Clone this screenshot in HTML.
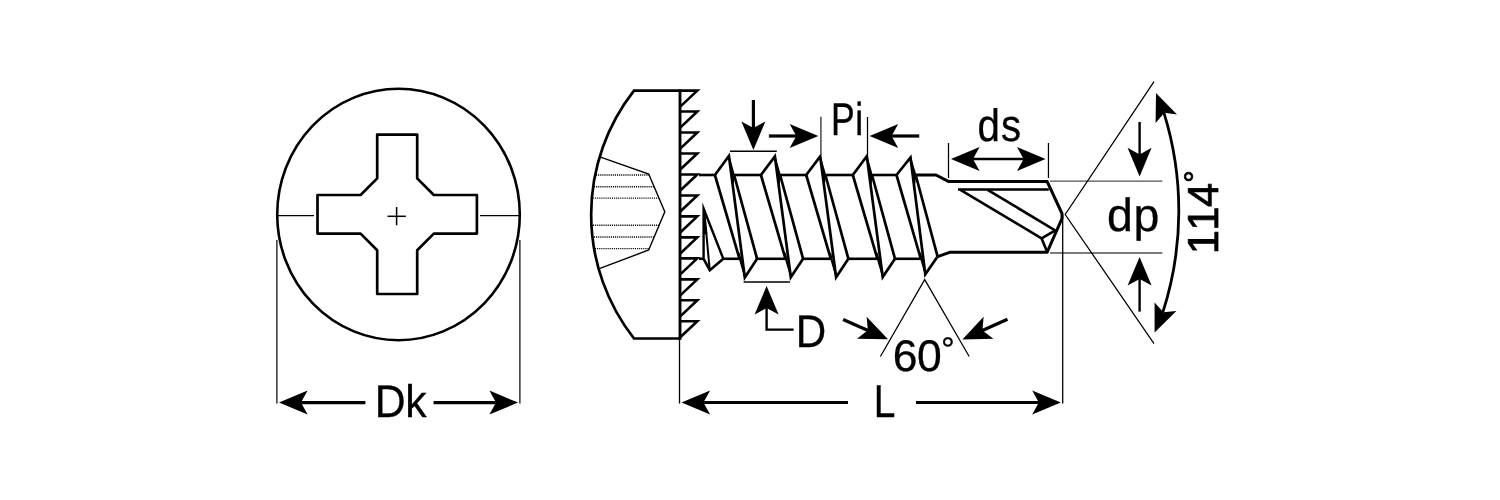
<!DOCTYPE html>
<html lang="en">
<head>
<meta charset="utf-8">
<title>Self-drilling screw dimensions</title>
<style>
html,body{margin:0;padding:0;background:#fff;}
body{width:1500px;height:500px;overflow:hidden;}
svg{display:block;will-change:transform;}
text{font-family:"Liberation Sans",sans-serif;fill:#000;text-rendering:geometricPrecision;}
</style>
</head>
<body>
<svg width="1500" height="500" viewBox="0 0 1500 500">
<rect width="1500" height="500" fill="#fff"/>
<ellipse cx="398.5" cy="214.5" rx="121.3" ry="125.7" fill="none" stroke="#000" stroke-width="2.6"/>
<path d="M377.20,134.60 L417.20,134.60 L417.20,178.40 L433.80,195.00 L476.90,195.00 L476.90,233.60 L433.80,233.60 L417.20,250.20 L417.20,294.00 L377.20,294.00 L377.20,250.20 L360.60,233.60 L317.50,233.60 L317.50,195.00 L360.60,195.00 L377.20,178.40 Z" fill="none" stroke="#000" stroke-width="2.7" stroke-linejoin="round" stroke-linecap="butt"/>
<line x1="387.50" y1="216.30" x2="405.80" y2="216.30" stroke="#000" stroke-width="1.5" stroke-linecap="butt" />
<line x1="396.60" y1="207.00" x2="396.60" y2="225.20" stroke="#000" stroke-width="1.5" stroke-linecap="butt" />
<line x1="277.00" y1="215.60" x2="314.00" y2="215.60" stroke="#000" stroke-width="1.2" stroke-linecap="butt" />
<line x1="480.00" y1="215.60" x2="520.00" y2="215.60" stroke="#000" stroke-width="1.2" stroke-linecap="butt" />
<line x1="276.90" y1="240.00" x2="276.90" y2="403.60" stroke="#000" stroke-width="1.2" stroke-linecap="butt" />
<line x1="519.90" y1="240.00" x2="519.90" y2="403.60" stroke="#000" stroke-width="1.2" stroke-linecap="butt" />
<line x1="365.40" y1="402.60" x2="299.00" y2="402.60" stroke="#000" stroke-width="3.2" stroke-linecap="butt" />
<path d="M279.00,402.60 L307.60,414.60 L301.00,402.60 L307.60,390.60 Z" fill="#000"/>
<line x1="433.60" y1="402.60" x2="498.00" y2="402.60" stroke="#000" stroke-width="3.2" stroke-linecap="butt" />
<path d="M518.00,402.60 L489.40,390.60 L496.00,402.60 L489.40,414.60 Z" fill="#000"/>
<text transform="translate(0,416.55) scale(0.9353,1)" x="400.61 433.34" y="0" font-size="45.67" stroke="#000" stroke-width="0.3">Dk</text>
<path d="M680,90.6 L634,90.6 A200.7,200.7 0 0 0 634,338.5 L680,338.5" fill="none" stroke="#000" stroke-width="2.7" stroke-linejoin="miter"/>
<line x1="680.00" y1="89.25" x2="680.00" y2="339.85" stroke="#000" stroke-width="2.9" stroke-linecap="butt" />
<path d="M680.00,90.60 L697.30,90.60 L680.00,106.90" fill="none" stroke="#000" stroke-width="2.6" stroke-linejoin="miter" stroke-linecap="butt"/>
<path d="M680.00,111.57 L697.30,111.57 L680.00,127.87" fill="none" stroke="#000" stroke-width="2.6" stroke-linejoin="miter" stroke-linecap="butt"/>
<path d="M680.00,132.54 L697.30,132.54 L680.00,148.84" fill="none" stroke="#000" stroke-width="2.6" stroke-linejoin="miter" stroke-linecap="butt"/>
<path d="M680.00,153.51 L697.30,153.51 L680.00,169.81" fill="none" stroke="#000" stroke-width="2.6" stroke-linejoin="miter" stroke-linecap="butt"/>
<path d="M680.00,174.48 L697.30,174.48 L680.00,190.78" fill="none" stroke="#000" stroke-width="2.6" stroke-linejoin="miter" stroke-linecap="butt"/>
<path d="M680.00,195.45 L697.30,195.45 L680.00,211.75" fill="none" stroke="#000" stroke-width="2.6" stroke-linejoin="miter" stroke-linecap="butt"/>
<path d="M680.00,216.42 L697.30,216.42 L680.00,232.72" fill="none" stroke="#000" stroke-width="2.6" stroke-linejoin="miter" stroke-linecap="butt"/>
<path d="M680.00,237.39 L697.30,237.39 L680.00,253.69" fill="none" stroke="#000" stroke-width="2.6" stroke-linejoin="miter" stroke-linecap="butt"/>
<path d="M680.00,258.36 L697.30,258.36 L680.00,274.66" fill="none" stroke="#000" stroke-width="2.6" stroke-linejoin="miter" stroke-linecap="butt"/>
<path d="M680.00,279.33 L697.30,279.33 L680.00,295.63" fill="none" stroke="#000" stroke-width="2.6" stroke-linejoin="miter" stroke-linecap="butt"/>
<path d="M680.00,300.30 L697.30,300.30 L680.00,316.60" fill="none" stroke="#000" stroke-width="2.6" stroke-linejoin="miter" stroke-linecap="butt"/>
<path d="M680.00,321.27 L697.30,321.27 L680.00,337.57" fill="none" stroke="#000" stroke-width="2.6" stroke-linejoin="miter" stroke-linecap="butt"/>
<path d="M600.50,157.20 L648.70,174.00 L664.80,211.80 L648.70,250.00 L600.00,268.40" fill="none" stroke="#000" stroke-width="1.4" stroke-linejoin="miter" stroke-linecap="butt"/>
<line x1="596" y1="175.0" x2="649.13" y2="175.0" stroke="#000" stroke-width="1.4" stroke-dasharray="1.1 1"/>
<line x1="594" y1="186.7" x2="654.11" y2="186.7" stroke="#000" stroke-width="1.4" stroke-dasharray="1.1 1"/>
<line x1="593" y1="198.1" x2="658.96" y2="198.1" stroke="#000" stroke-width="1.4" stroke-dasharray="1.1 1"/>
<line x1="593" y1="225.3" x2="659.11" y2="225.3" stroke="#000" stroke-width="1.4" stroke-dasharray="1.1 1"/>
<line x1="594" y1="237.0" x2="654.18" y2="237.0" stroke="#000" stroke-width="1.4" stroke-dasharray="1.1 1"/>
<line x1="595" y1="248.6" x2="649.29" y2="248.6" stroke="#000" stroke-width="1.4" stroke-dasharray="1.1 1"/>
<line x1="679.50" y1="338.00" x2="679.50" y2="403.50" stroke="#000" stroke-width="1.3" stroke-linecap="butt" />
<path d="M714.90,175.00 L728.90,155.90 L744.80,277.50 L757.10,258.80" fill="none" stroke="#000" stroke-width="2.7" stroke-linejoin="miter" stroke-linecap="butt"/>
<path d="M714.90,175.00 L739.50,258.80" fill="none" stroke="#000" stroke-width="2.7" stroke-linejoin="miter" stroke-linecap="butt"/>
<path d="M734.10,175.00 L757.10,258.80" fill="none" stroke="#000" stroke-width="2.7" stroke-linejoin="miter" stroke-linecap="butt"/>
<path d="M728.90,155.90 L734.10,175.00 L732.90,184.00 Z" fill="#000" stroke="#000" stroke-width="1.4" stroke-linejoin="miter" stroke-linecap="butt"/>
<path d="M739.50,258.80 L744.80,277.50 L739.20,252.80 Z" fill="#000" stroke="#000" stroke-width="1.2" stroke-linejoin="miter" stroke-linecap="butt"/>
<line x1="699.00" y1="175.00" x2="715.40" y2="175.00" stroke="#000" stroke-width="2.6" stroke-linecap="butt" />
<path d="M760.90,175.00 L774.90,156.50 L790.80,277.20 L803.10,258.80" fill="none" stroke="#000" stroke-width="2.7" stroke-linejoin="miter" stroke-linecap="butt"/>
<path d="M760.90,175.00 L785.50,258.80" fill="none" stroke="#000" stroke-width="2.7" stroke-linejoin="miter" stroke-linecap="butt"/>
<path d="M780.10,175.00 L803.10,258.80" fill="none" stroke="#000" stroke-width="2.7" stroke-linejoin="miter" stroke-linecap="butt"/>
<path d="M774.90,156.50 L780.10,175.00 L778.90,184.00 Z" fill="#000" stroke="#000" stroke-width="1.4" stroke-linejoin="miter" stroke-linecap="butt"/>
<path d="M785.50,258.80 L790.80,277.20 L785.20,252.80 Z" fill="#000" stroke="#000" stroke-width="1.2" stroke-linejoin="miter" stroke-linecap="butt"/>
<line x1="734.10" y1="175.00" x2="761.40" y2="175.00" stroke="#000" stroke-width="2.6" stroke-linecap="butt" />
<line x1="756.60" y1="258.80" x2="786.00" y2="258.80" stroke="#000" stroke-width="2.6" stroke-linecap="butt" />
<path d="M806.20,175.00 L820.20,156.50 L836.10,277.20 L848.40,258.80" fill="none" stroke="#000" stroke-width="2.7" stroke-linejoin="miter" stroke-linecap="butt"/>
<path d="M806.20,175.00 L830.80,258.80" fill="none" stroke="#000" stroke-width="2.7" stroke-linejoin="miter" stroke-linecap="butt"/>
<path d="M825.40,175.00 L848.40,258.80" fill="none" stroke="#000" stroke-width="2.7" stroke-linejoin="miter" stroke-linecap="butt"/>
<path d="M820.20,156.50 L825.40,175.00 L824.20,184.00 Z" fill="#000" stroke="#000" stroke-width="1.4" stroke-linejoin="miter" stroke-linecap="butt"/>
<path d="M830.80,258.80 L836.10,277.20 L830.50,252.80 Z" fill="#000" stroke="#000" stroke-width="1.2" stroke-linejoin="miter" stroke-linecap="butt"/>
<line x1="780.10" y1="175.00" x2="806.70" y2="175.00" stroke="#000" stroke-width="2.6" stroke-linecap="butt" />
<line x1="802.60" y1="258.80" x2="831.30" y2="258.80" stroke="#000" stroke-width="2.6" stroke-linecap="butt" />
<path d="M852.80,175.00 L866.80,156.20 L882.70,277.00 L895.00,258.80" fill="none" stroke="#000" stroke-width="2.7" stroke-linejoin="miter" stroke-linecap="butt"/>
<path d="M852.80,175.00 L877.40,258.80" fill="none" stroke="#000" stroke-width="2.7" stroke-linejoin="miter" stroke-linecap="butt"/>
<path d="M872.00,175.00 L895.00,258.80" fill="none" stroke="#000" stroke-width="2.7" stroke-linejoin="miter" stroke-linecap="butt"/>
<path d="M866.80,156.20 L872.00,175.00 L870.80,184.00 Z" fill="#000" stroke="#000" stroke-width="1.4" stroke-linejoin="miter" stroke-linecap="butt"/>
<path d="M877.40,258.80 L882.70,277.00 L877.10,252.80 Z" fill="#000" stroke="#000" stroke-width="1.2" stroke-linejoin="miter" stroke-linecap="butt"/>
<line x1="825.40" y1="175.00" x2="853.30" y2="175.00" stroke="#000" stroke-width="2.6" stroke-linecap="butt" />
<line x1="847.90" y1="258.80" x2="877.90" y2="258.80" stroke="#000" stroke-width="2.6" stroke-linecap="butt" />
<path d="M896.50,175.00 L910.50,157.50 L925.30,274.30 L937.60,256.60" fill="none" stroke="#000" stroke-width="2.7" stroke-linejoin="miter" stroke-linecap="butt"/>
<path d="M896.50,175.00 L920.80,258.80" fill="none" stroke="#000" stroke-width="2.7" stroke-linejoin="miter" stroke-linecap="butt"/>
<path d="M915.70,175.00 L937.60,256.60" fill="none" stroke="#000" stroke-width="2.7" stroke-linejoin="miter" stroke-linecap="butt"/>
<path d="M910.50,157.50 L915.70,175.00 L914.50,184.00 Z" fill="#000" stroke="#000" stroke-width="1.4" stroke-linejoin="miter" stroke-linecap="butt"/>
<path d="M920.80,258.80 L925.30,274.30 L920.50,252.80 Z" fill="#000" stroke="#000" stroke-width="1.2" stroke-linejoin="miter" stroke-linecap="butt"/>
<line x1="872.00" y1="175.00" x2="897.00" y2="175.00" stroke="#000" stroke-width="2.6" stroke-linecap="butt" />
<line x1="894.50" y1="258.80" x2="921.30" y2="258.80" stroke="#000" stroke-width="2.6" stroke-linecap="butt" />
<path d="M703.6,258.8 L703.6,208.6 L723.3,258.8" fill="none" stroke="#000" stroke-width="2.4" stroke-linejoin="miter" stroke-miterlimit="20"/>
<path d="M704.20,210.00 L709.60,269.00" fill="none" stroke="#000" stroke-width="2.0" stroke-linejoin="miter" stroke-linecap="butt"/>
<path d="M703.60,258.80 L709.80,270.20 L723.30,258.80" fill="none" stroke="#000" stroke-width="2.6" stroke-linejoin="miter" stroke-linecap="butt"/>
<path d="M703.60,207.00 L707.00,234.00 L704.00,234.00 Z" fill="#000" stroke="#000" stroke-width="0.5" stroke-linejoin="miter" stroke-linecap="butt"/>
<line x1="699.00" y1="258.80" x2="704.00" y2="258.80" stroke="#000" stroke-width="2.6" stroke-linecap="butt" />
<line x1="722.40" y1="258.80" x2="740.20" y2="258.80" stroke="#000" stroke-width="2.6" stroke-linecap="butt" />
<path d="M915.20,175.00 L936.00,175.00 L948.80,181.60 L1047.20,181.60 L1062.00,213.50 L1062.00,218.50 L1047.20,252.20 L949.60,252.30 L937.60,256.60" fill="none" stroke="#000" stroke-width="3.0" stroke-linejoin="round" stroke-linecap="butt"/>
<line x1="958.00" y1="189.60" x2="1048.80" y2="189.60" stroke="#000" stroke-width="2.5" stroke-linecap="butt" />
<path d="M960.00,189.60 L1041.60,238.40 L1047.20,252.00" fill="none" stroke="#000" stroke-width="2.6" stroke-linejoin="miter" stroke-linecap="butt"/>
<path d="M987.20,189.60 L1055.20,230.40 L1041.60,238.40" fill="none" stroke="#000" stroke-width="2.6" stroke-linejoin="miter" stroke-linecap="butt"/>
<line x1="730.00" y1="151.30" x2="776.80" y2="151.30" stroke="#000" stroke-width="1.5" stroke-linecap="butt" />
<line x1="753.40" y1="100.00" x2="753.40" y2="130.00" stroke="#000" stroke-width="3.2" stroke-linecap="butt" />
<path d="M753.40,150.00 L765.40,121.40 L753.40,128.00 L741.40,121.40 Z" fill="#000"/>
<line x1="743.60" y1="282.00" x2="790.00" y2="282.00" stroke="#000" stroke-width="1.5" stroke-linecap="butt" />
<path d="M793.60,329.60 L766.60,329.60 L766.60,300.00" fill="none" stroke="#000" stroke-width="2.4" stroke-linejoin="miter" stroke-linecap="butt"/>
<path d="M766.60,286.00 L754.60,314.60 L766.60,308.00 L778.60,314.60 Z" fill="#000"/>
<text transform="translate(0,346.55) scale(0.9238,1)" x="861.27" y="0" font-size="45.67" stroke="#000" stroke-width="0.3">D</text>
<line x1="820.90" y1="116.80" x2="820.90" y2="155.00" stroke="#555" stroke-width="1.6" stroke-linecap="butt" />
<line x1="867.50" y1="117.00" x2="867.50" y2="155.00" stroke="#000" stroke-width="1.25" stroke-linecap="butt" />
<line x1="768.90" y1="136.00" x2="798.30" y2="136.00" stroke="#000" stroke-width="3.2" stroke-linecap="butt" />
<path d="M818.30,136.00 L789.70,124.00 L796.30,136.00 L789.70,148.00 Z" fill="#000"/>
<line x1="919.20" y1="136.00" x2="889.60" y2="136.00" stroke="#000" stroke-width="3.2" stroke-linecap="butt" />
<path d="M869.60,136.00 L898.20,148.00 L891.60,136.00 L898.20,124.00 Z" fill="#000"/>
<text transform="translate(0,134.80) scale(0.7750,1)" x="1072.15 1103.68" y="0" font-size="45.82" stroke="#000" stroke-width="0.4">Pi</text>
<line x1="948.50" y1="143.00" x2="948.50" y2="178.00" stroke="#000" stroke-width="1.25" stroke-linecap="butt" />
<line x1="1048.45" y1="143.00" x2="1048.45" y2="178.00" stroke="#000" stroke-width="1.25" stroke-linecap="butt" />
<line x1="960.00" y1="159.00" x2="1036.00" y2="159.00" stroke="#000" stroke-width="2.4" stroke-linecap="butt" />
<path d="M951.00,159.00 L979.60,171.00 L973.00,159.00 L979.60,147.00 Z" fill="#000"/>
<path d="M1045.60,159.00 L1017.00,147.00 L1023.60,159.00 L1017.00,171.00 Z" fill="#000"/>
<text transform="translate(0,141.30) scale(0.8856,1)" x="1103.79 1130.27" y="0" font-size="45.44" stroke="#000" stroke-width="0.3">ds</text>
<line x1="1050.00" y1="181.10" x2="1162.40" y2="181.10" stroke="#505050" stroke-width="1.4" stroke-linecap="butt" />
<line x1="1050.00" y1="253.00" x2="1162.40" y2="253.00" stroke="#505050" stroke-width="1.4" stroke-linecap="butt" />
<line x1="1139.60" y1="122.00" x2="1139.60" y2="156.40" stroke="#000" stroke-width="2.4" stroke-linecap="butt" />
<path d="M1139.60,176.40 L1151.60,147.80 L1139.60,154.40 L1127.60,147.80 Z" fill="#000"/>
<line x1="1139.60" y1="311.60" x2="1139.60" y2="277.00" stroke="#000" stroke-width="2.4" stroke-linecap="butt" />
<path d="M1139.60,257.00 L1127.60,285.60 L1139.60,279.00 L1151.60,285.60 Z" fill="#000"/>
<text transform="translate(0,230.68) scale(0.9952,1)" x="1112.42 1138.90" y="0" font-size="46.67" stroke="#000" stroke-width="0.3">dp</text>
<line x1="1062.70" y1="215.00" x2="1062.70" y2="403.50" stroke="#000" stroke-width="1.3" stroke-linecap="butt" />
<path d="M1154.00,81.60 L1065.20,214.50 L1154.00,343.60" fill="none" stroke="#000" stroke-width="1.25" stroke-linejoin="miter" stroke-linecap="butt"/>
<path d="M1163.8,112.4 A330.3,330.3 0 0 1 1162.8,312.4" fill="none" stroke="#000" stroke-width="2.8"/>
<path d="M1156.00,93.00 L1155.60,123.00 L1164.40,112.80 L1177.00,114.40 Z" fill="#000" stroke="#000" stroke-width="0" stroke-linejoin="miter" stroke-linecap="butt"/>
<path d="M1154.60,332.40 L1154.60,302.40 L1163.40,312.20 L1176.40,311.00 Z" fill="#000" stroke="#000" stroke-width="0" stroke-linejoin="miter" stroke-linecap="butt"/>
<text transform="translate(1217.80,250.00) rotate(-90) scale(1.0000,1)" x="-4.32 19.23 43.13 67.26" y="0" font-size="43.35" stroke="#000" stroke-width="0.8">114<tspan font-size="31.21" dy="-12.00">°</tspan></text>
<path d="M880.40,356.50 L924.70,279.60 L969.20,356.50" fill="none" stroke="#000" stroke-width="1.25" stroke-linejoin="miter" stroke-linecap="butt"/>
<line x1="843.10" y1="319.50" x2="869.69" y2="331.16" stroke="#000" stroke-width="3.2" stroke-linecap="butt" />
<path d="M888.00,339.20 L866.63,316.72 L867.85,330.36 L856.99,338.70 Z" fill="#000"/>
<line x1="1007.50" y1="319.20" x2="980.65" y2="331.22" stroke="#000" stroke-width="3.2" stroke-linecap="butt" />
<path d="M962.40,339.40 L993.41,338.66 L982.48,330.41 L983.60,316.76 Z" fill="#000"/>
<text transform="translate(0,371.41) scale(1.0055,1)" x="887.97 912.05 935.92" y="0" font-size="44.24" stroke="#000" stroke-width="0.3">60<tspan font-size="34.07" dy="-10.80">°</tspan></text>
<line x1="848.00" y1="402.50" x2="701.50" y2="402.50" stroke="#000" stroke-width="3.2" stroke-linecap="butt" />
<path d="M681.50,402.50 L710.10,414.50 L703.50,402.50 L710.10,390.50 Z" fill="#000"/>
<line x1="916.00" y1="402.50" x2="1040.80" y2="402.50" stroke="#000" stroke-width="3.2" stroke-linecap="butt" />
<path d="M1060.80,402.50 L1032.20,390.50 L1038.80,402.50 L1032.20,414.50 Z" fill="#000"/>
<text transform="translate(0,416.65) scale(0.8482,1)" x="1030.10" y="0" font-size="45.82" stroke="#000" stroke-width="0.3">L</text>
</svg>
</body>
</html>
